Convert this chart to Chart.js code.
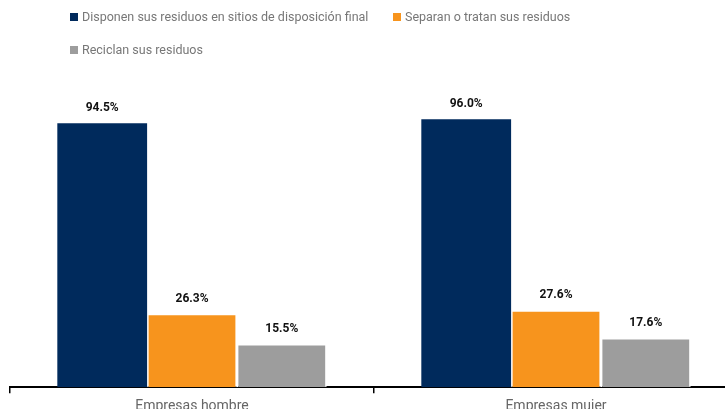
<!DOCTYPE html>
<html>
<head>
<meta charset="utf-8">
<script src="https://cdn.jsdelivr.net/npm/chart.js@4"></script>
<style>
  html, body { margin: 0; padding: 0; overflow: hidden; background: #fff; }
  #wrap { position: relative; width: 745px; height: 420px; }
  #legend { position: absolute; left: 70px; top: 9px; font-family: Roboto, sans-serif; font-size: 12.5px; color: #777; }
  .item { position: absolute; white-space: nowrap; display: flex; align-items: center; }
  .box { width: 8px; height: 8px; margin-right: 4px; }
</style>
</head>
<body>
<div id="wrap">
  <canvas id="chart" width="745" height="420"></canvas>
  <div id="legend"></div>
</div>
<script>
// Data
const categories = ['Empresas hombre', 'Empresas mujer'];
const seriesNames = [
  'Disponen sus residuos en sitios de disposición final',
  'Separan o tratan sus residuos',
  'Reciclan sus residuos'
];
const disponen = [94.5, 96.0];
const separan = [26.3, 27.6];
const reciclan = [15.5, 17.6];
const colors = ['#002a5c', '#f7941d', '#9d9d9d'];

// Legend (HTML)
const legendEl = document.getElementById('legend');
const legendPos = [[0, 0], [323, 0], [0, 33]];
seriesNames.forEach((name, i) => {
  const item = document.createElement('div');
  item.className = 'item';
  item.style.left = legendPos[i][0] + 'px';
  item.style.top = legendPos[i][1] + 'px';
  item.innerHTML = `<span class="box" style="background:${colors[i]}"></span>${name}`;
  legendEl.appendChild(item);
});

// Value labels above bars
const valueLabels = {
  id: 'valueLabels',
  afterDatasetsDraw(chart) {
    const ctx = chart.ctx;
    ctx.save();
    ctx.font = 'bold 12px Roboto, sans-serif';
    ctx.fillStyle = '#111';
    ctx.textAlign = 'center';
    ctx.textBaseline = 'middle';
    chart.data.datasets.forEach((ds, i) => {
      chart.getDatasetMeta(i).data.forEach((bar, j) => {
        ctx.fillText(ds.data[j].toFixed(1) + '%', bar.x, bar.y - 15);
      });
    });
    ctx.restore();
  }
};

const values = [disponen, separan, reciclan];

new Chart(document.getElementById('chart'), {
  type: 'bar',
  data: {
    labels: categories,
    datasets: seriesNames.map((name, i) => ({
      label: name,
      data: values[i],
      backgroundColor: colors[i],
      borderColor: '#fff',
      borderWidth: i === 0 ? 0 : 1.5,
      categoryPercentage: 0.74,
      barPercentage: 1
    }))
  },
  options: {
    responsive: false,
    animation: false,
    layout: { padding: { top: 108, left: 10, right: 7, bottom: 0 } },
    plugins: {
      legend: { display: false },
      tooltip: { enabled: false }
    },
    scales: {
      x: {
        border: { display: true, color: '#000', width: 2 },
        grid: { display: true, drawOnChartArea: false, drawTicks: true, tickLength: 6, color: '#000', lineWidth: 1.5, offset: true },
        ticks: { color: '#666', font: { family: 'Roboto, sans-serif', size: 14 }, padding: 5 }
      },
      y: {
        display: false,
        min: 0,
        max: 100
      }
    }
  },
  plugins: [valueLabels]
});
</script>
</body>
</html>
